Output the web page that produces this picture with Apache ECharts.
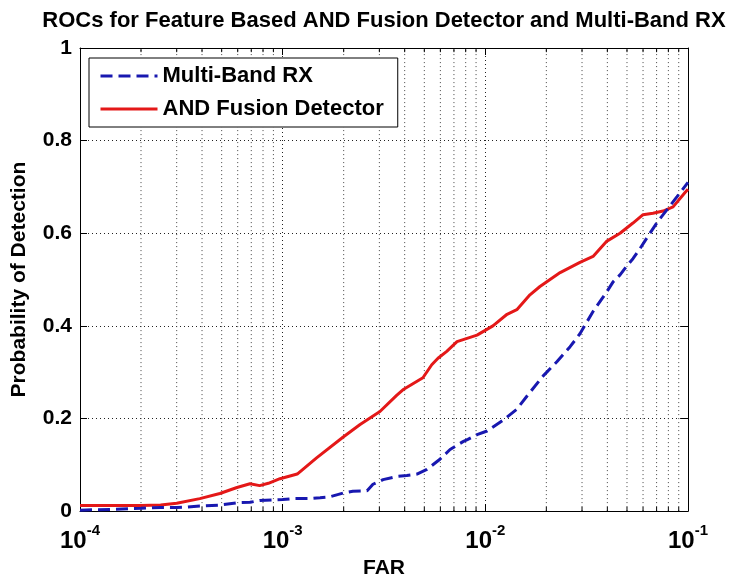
<!DOCTYPE html>
<html>
<head>
<meta charset="utf-8">
<script src="https://cdn.jsdelivr.net/npm/echarts@6/dist/echarts.min.js"></script>
<style>
  html, body { margin: 0; padding: 0; background: #fff; }
  #chart { width: 730px; height: 584px; }
</style>
</head>
<body>
<div id="chart"></div>
<script>
// False alarm rate samples and detection probabilities for each detector
const rxFar = [1e-4, 1.5e-4, 2e-4, 2.5e-4, 3e-4, 3.4e-4, 3.9e-4, 4.9e-4, 6e-4, 6.9e-4,
  7.7e-4, 9e-4, 1e-3, 1.12e-3, 1.36e-3, 1.53e-3, 1.71e-3, 1.99e-3, 2.22e-3, 2.61e-3,
  2.79e-3, 3.13e-3, 3.67e-3, 4.1e-3, 4.6e-3, 5.15e-3, 5.97e-3, 6.7e-3, 7.76e-3, 8.2e-3,
  9.1e-3, 1.02e-2, 1.22e-2, 1.43e-2, 1.61e-2, 1.93e-2, 2.26e-2, 2.62e-2, 2.93e-2, 3.4e-2,
  3.98e-2, 4.27e-2, 4.62e-2, 5.0e-2, 5.35e-2, 5.8e-2, 6.49e-2, 7.11e-2, 7.88e-2, 8.83e-2, 0.1];
const rxPd = [0.002, 0.004, 0.006, 0.008, 0.008, 0.009, 0.011, 0.013, 0.018, 0.019,
  0.023, 0.024, 0.025, 0.027, 0.027, 0.029, 0.031, 0.039, 0.043, 0.044,
  0.058, 0.068, 0.075, 0.077, 0.080, 0.090, 0.112, 0.133, 0.150, 0.155,
  0.165, 0.173, 0.196, 0.220, 0.249, 0.292, 0.323, 0.355, 0.383, 0.431,
  0.474, 0.495, 0.510, 0.530, 0.545, 0.567, 0.600, 0.626, 0.651, 0.679, 0.710];

const andFar = [1e-4, 1.5e-4, 2e-4, 2.5e-4, 3e-4, 3.9e-4, 4.9e-4, 5.95e-4, 6.9e-4, 7.7e-4,
  8.5e-4, 9.7e-4, 1.18e-3, 1.47e-3, 1.99e-3, 2.41e-3, 3.02e-3, 3.65e-3, 3.92e-3, 4.92e-3,
  5.44e-3, 5.84e-3, 6.45e-3, 7.25e-3, 9.1e-3, 1.09e-2, 1.28e-2, 1.43e-2, 1.66e-2, 1.86e-2,
  2.34e-2, 2.93e-2, 3.4e-2, 3.98e-2, 4.62e-2, 5.35e-2, 6.0e-2, 6.72e-2, 7.53e-2, 8.44e-2,
  9.67e-2, 0.1];
const andPd = [0.012, 0.012, 0.012, 0.013, 0.017, 0.027, 0.038, 0.051, 0.059, 0.055,
  0.060, 0.070, 0.080, 0.115, 0.160, 0.187, 0.215, 0.250, 0.262, 0.288,
  0.316, 0.330, 0.345, 0.366, 0.380, 0.400, 0.425, 0.435, 0.467, 0.485,
  0.515, 0.537, 0.550, 0.583, 0.600, 0.622, 0.640, 0.643, 0.648, 0.657,
  0.688, 0.695];

const seriesNames = ['Multi-Band RX', 'AND Fusion Detector'];
const yTickLabels = ['0', '0.2', '0.4', '0.6', '0.8', '1'];
const xTickLabels = { '-4': '-4', '-3': '-3', '-2': '-2', '-1': '-1' };

const pairs = (xs, ys) => xs.map((x, i) => [x, ys[i]]);

// Log-spaced minor grid lines (2..9 within each decade), drawn as broken
// vertical segments spanning the full probability range
const minorGrid = [];
const minorTicksBottom = [];
const minorTicksTop = [];
for (let d = -4; d < -1; d++) {
  for (let k = 2; k <= 9; k++) {
    const v = k * Math.pow(10, d);
    minorGrid.push([v, 0], [v, 1], [v, '-']);
    minorTicksBottom.push([v, 0], [v, 0.009], [v, '-']);
    minorTicksTop.push([v, 1], [v, 0.991], [v, '-']);
  }
}

const FONT = 'Liberation Sans, Arial, sans-serif';
const gridLine = { show: true, lineStyle: { color: '#222', type: [1, 3], width: 1 } };
const frame = { show: true, onZero: false, lineStyle: { color: '#000', width: 1 } };
const helper = (data, style, z) => ({
  type: 'line', data, symbol: 'none', silent: true, connectNulls: false,
  xAxisIndex: 0, yAxisIndex: 0, z, lineStyle: style, tooltip: { show: false }
});

const chart = echarts.init(document.getElementById('chart'));
chart.setOption({
  animation: false,
  backgroundColor: '#fff',
  title: {
    text: 'ROCs for Feature Based AND Fusion Detector and Multi-Band RX',
    left: 379, top: 5, textAlign: 'center',
    textStyle: { fontFamily: FONT, fontSize: 22, fontWeight: 'bold', color: '#000' }
  },
  grid: { left: 80, right: 42, top: 48, bottom: 63 },
  legend: {
    data: seriesNames,
    orient: 'vertical',
    left: 89, top: 58,
    padding: [7, 14, 7, 10],
    itemWidth: 57, itemHeight: 14, itemGap: 11,
    itemStyle: { opacity: 0 },
    lineStyle: { width: 3 },
    backgroundColor: '#fff', borderColor: '#000', borderWidth: 1,
    textStyle: { fontFamily: FONT, fontSize: 22, fontWeight: 'bold', color: '#000' }
  },
  xAxis: [{
    type: 'log', logBase: 10, min: 1e-4, max: 0.1,
    name: 'FAR', nameLocation: 'middle', nameGap: 40,
    nameTextStyle: { fontFamily: FONT, fontSize: 21, fontWeight: 'bold', color: '#000' },
    axisLine: frame,
    axisTick: { show: true, inside: true, length: 7, lineStyle: { color: '#000' } },
    splitLine: gridLine,
    axisLabel: {
      margin: 12,
      formatter: v => {
        const e = String(Math.round(Math.log10(v)));
        return '{b|10}{s|' + xTickLabels[e] + '}';
      },
      rich: {
        b: { fontFamily: FONT, fontSize: 24, fontWeight: 'bold', color: '#000', verticalAlign: 'bottom', lineHeight: 30 },
        s: { fontFamily: FONT, fontSize: 15, fontWeight: 'bold', color: '#000', verticalAlign: 'top', lineHeight: 30 }
      }
    }
  }, {
    type: 'log', logBase: 10, min: 1e-4, max: 0.1, position: 'top',
    axisLine: frame,
    axisTick: { show: true, inside: true, length: 7, lineStyle: { color: '#000' } },
    axisLabel: { show: false }, splitLine: { show: false }
  }],
  yAxis: [{
    type: 'value', min: 0, max: 1, interval: 0.2,
    name: 'Probability of Detection', nameLocation: 'middle', nameGap: 50,
    nameTextStyle: { fontFamily: FONT, fontSize: 21, fontWeight: 'bold', color: '#000' },
    axisLine: frame,
    axisTick: { show: true, inside: true, length: 7, lineStyle: { color: '#000' } },
    splitLine: gridLine,
    axisLabel: {
      margin: 8,
      fontFamily: FONT, fontSize: 21, fontWeight: 'bold', color: '#000',
      formatter: v => yTickLabels[Math.round(v / 0.2)]
    }
  }, {
    type: 'value', min: 0, max: 1, interval: 0.2, position: 'right',
    axisLine: frame,
    axisTick: { show: true, inside: true, length: 7, lineStyle: { color: '#000' } },
    axisLabel: { show: false }, splitLine: { show: false }
  }],
  series: [
    helper(minorGrid, { color: '#444', type: [1, 3], width: 1 }, 1),
    helper(minorTicksBottom, { color: '#000', width: 1 }, 1),
    helper(minorTicksTop, { color: '#000', width: 1 }, 1),
    {
      name: seriesNames[0], type: 'line', xAxisIndex: 0, yAxisIndex: 0,
      data: pairs(rxFar, rxPd),
      symbol: 'none', z: 4,
      lineStyle: { color: '#1818b0', width: 3, type: [12, 6] },
      itemStyle: { color: '#1818b0' }
    }, {
      name: seriesNames[1], type: 'line', xAxisIndex: 0, yAxisIndex: 0,
      data: pairs(andFar, andPd),
      symbol: 'none', z: 3,
      lineStyle: { color: '#e41818', width: 3 },
      itemStyle: { color: '#e41818' }
    }
  ]
});
</script>
</body>
</html>
